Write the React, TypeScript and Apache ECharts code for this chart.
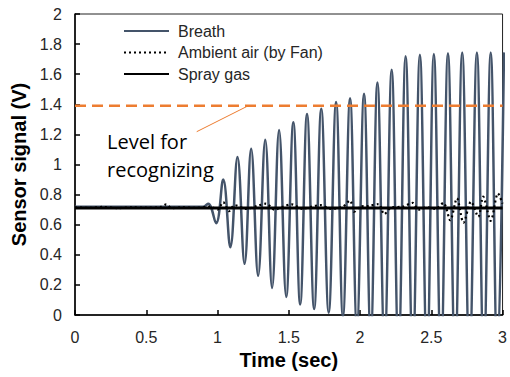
import React, { useEffect, useRef } from "react";
import * as echarts from "echarts";

const breathTime = [0, 0.9, 0.935, 0.99, 1.04, 1.09, 1.14, 1.19, 1.236, 1.285, 1.335, 1.383, 1.432, 1.482, 1.532, 1.58, 1.628, 1.678, 1.728, 1.78, 1.832, 1.88, 1.93, 1.978, 2.028, 2.075, 2.122, 2.172, 2.222, 2.27, 2.32, 2.37, 2.42, 2.47, 2.518, 2.568, 2.617, 2.667, 2.717, 2.768, 2.82, 2.868, 2.917, 2.963, 3.01];
const breathValue = [0.72, 0.72, 0.74, 0.61, 0.9, 0.45, 1.05, 0.34, 1.105, 0.26, 1.165, 0.18, 1.23, 0.12, 1.28, 0.07, 1.335, 0.04, 1.37, 0.015, 1.415, -0.01, 1.44, -0.08, 1.47, -0.15, 1.545, -0.2, 1.63, -0.25, 1.72, -0.28, 1.73, -0.3, 1.735, -0.3, 1.74, -0.3, 1.745, -0.3, 1.745, -0.3, 1.745, -0.3, 1.745];

const ambientTime = [0, 0.1, 0.2, 0.3, 0.4, 0.5, 0.6, 0.64, 0.68, 0.75, 0.85, 0.95, 1.0, 1.04, 1.08, 1.12, 1.2, 1.28, 1.34, 1.4, 1.46, 1.52, 1.6, 1.66, 1.72, 1.8, 1.88, 1.93, 1.96, 2.0, 2.06, 2.13, 2.17, 2.22, 2.3, 2.37, 2.41, 2.47, 2.53, 2.585, 2.633, 2.68, 2.726, 2.779, 2.83, 2.864, 2.917, 2.968, 3.0];
const ambientValue = [0.715, 0.712, 0.718, 0.71, 0.716, 0.713, 0.718, 0.735, 0.71, 0.716, 0.712, 0.72, 0.7, 0.75, 0.69, 0.73, 0.705, 0.725, 0.74, 0.7, 0.72, 0.735, 0.705, 0.72, 0.73, 0.705, 0.72, 0.76, 0.686, 0.72, 0.725, 0.737, 0.67, 0.715, 0.72, 0.745, 0.7, 0.715, 0.705, 0.745, 0.63, 0.775, 0.613, 0.753, 0.653, 0.786, 0.626, 0.808, 0.74];

const sprayTime = [0, 3];
const sprayValue = [0.711, 0.711];

const levelTime = [0, 3];
const levelValue = [1.39, 1.39];
const leaderFrom = [0.854, 1.218];
const leaderTo = [1.213, 1.389];

const seriesNames = ["Breath", "Ambient air (by Fan)", "Spray gas"];
const annotationLines = ["Level for", "recognizing"];

const zip = (xs: number[], ys: number[]) => xs.map((x, i) => [x, ys[i]]);

export default function App() {
  const ref = useRef<HTMLDivElement>(null);
  useEffect(() => {
    if (!ref.current) return;
    document.body.style.margin = "0";
    const chart = echarts.init(ref.current, undefined, { renderer: "svg" });
    const axisFont = "Liberation Sans, Arial, sans-serif";
    chart.setOption({
      animation: false,
      grid: { left: 75, right: 2, top: 14, bottom: 62, show: true, borderColor: "#222", borderWidth: 1 },
      legend: {
        data: seriesNames,
        orient: "vertical",
        left: 118,
        top: 18,
        itemWidth: 45,
        itemHeight: 14,
        itemGap: 5.5,
        itemStyle: { opacity: 0, color: "transparent", borderWidth: 0 },
        textStyle: { fontFamily: axisFont, fontSize: 16, color: "#262626", padding: [0, 0, 0, 4] },
      },
      xAxis: {
        type: "value",
        min: 0,
        max: 3,
        interval: 0.5,
        name: "Time (sec)",
        nameLocation: "middle",
        nameGap: 25,
        nameTextStyle: { fontFamily: axisFont, fontSize: 20, fontWeight: "bold", color: "#000" },
        axisLine: { show: true, lineStyle: { color: "#000", width: 1.5 } },
        axisTick: { show: true, inside: true, length: 5, lineStyle: { color: "#000", width: 1.5 } },
        axisLabel: { fontFamily: axisFont, fontSize: 16, color: "#262626", margin: 14 },
        splitLine: { show: false },
      },
      yAxis: {
        type: "value",
        min: 0,
        max: 2,
        interval: 0.2,
        name: "Sensor signal (V)",
        nameLocation: "middle",
        nameGap: 42,
        nameTextStyle: { fontFamily: axisFont, fontSize: 20, fontWeight: "bold", color: "#000" },
        axisLine: { show: true, lineStyle: { color: "#000", width: 1.5 } },
        axisTick: { show: true, inside: true, length: 5, lineStyle: { color: "#000", width: 1.5 } },
        axisLabel: { fontFamily: axisFont, fontSize: 16, color: "#262626", margin: 13, formatter: (v: number) => String(Math.round(v * 10) / 10) },
        splitLine: { show: false },
      },
      series: [
        {
          name: seriesNames[0],
          type: "line",
          data: zip(breathTime, breathValue),
          symbol: "none",
          smooth: 0.4,
          lineStyle: { color: "#44546A", width: 2.5 },
          itemStyle: { color: "#44546A" },
          z: 2,
        },
        {
          name: seriesNames[1],
          type: "line",
          data: zip(ambientTime, ambientValue),
          symbol: "none",
          smooth: 0.3,
          lineStyle: { color: "#000", width: 2.2, type: [2, 3] },
          itemStyle: { color: "#000" },
          z: 3,
        },
        {
          name: seriesNames[2],
          type: "line",
          data: zip(sprayTime, sprayValue),
          symbol: "none",
          lineStyle: { color: "#000", width: 3.2 },
          itemStyle: { color: "#000" },
          z: 4,
        },
        {
          name: "Level",
          type: "line",
          data: zip(levelTime, levelValue),
          symbol: "none",
          lineStyle: { color: "#ED7D31", width: 2.5, type: [11, 6] },
          z: 5,
          markLine: {
            silent: true,
            symbol: ["none", "none"],
            label: { show: false },
            lineStyle: { color: "#ED7D31", width: 1, type: "solid" },
            data: [[{ coord: leaderFrom }, { coord: leaderTo }]],
          },
        },
      ],
      graphic: [
        { type: "text", x: 107, y: 141, style: { text: annotationLines[0], font: "20px 'Open Sans', sans-serif", fill: "#000", verticalAlign: "middle" } },
        { type: "text", x: 107, y: 169, style: { text: annotationLines[1], font: "20px 'Open Sans', sans-serif", fill: "#000", verticalAlign: "middle" } },
      ],
    });
    return () => chart.dispose();
  }, []);
  return <div ref={ref} style={{ width: 510, height: 377 }} />;
}
